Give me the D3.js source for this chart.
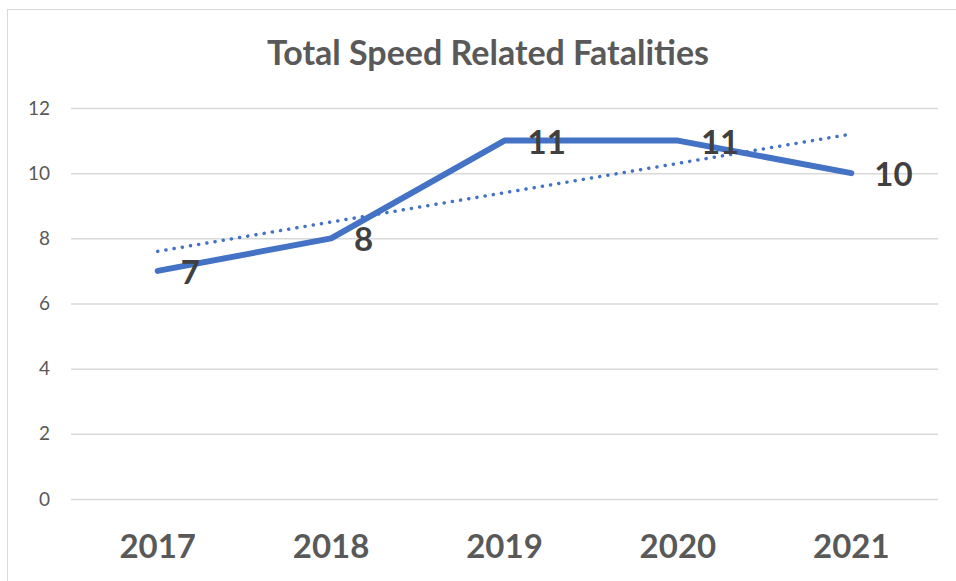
<!DOCTYPE html>
<html>
<head>
<meta charset="utf-8">
<script src="https://cdn.jsdelivr.net/npm/d3@7"></script>
<style>
  body { margin: 0; background: #fff; }
  svg text { font-family: Lato, "Open Sans", sans-serif; }
</style>
</head>
<body>
<div id="chart"></div>
<script>
// data
var years = ["2017", "2018", "2019", "2020", "2021"];
var fatalities = [7, 8, 11, 11, 10];
var yTicks = [0, 2, 4, 6, 8, 10, 12];

var width = 956, height = 581;
var margin = { left: 71, right: 18, top: 108, bottom: 82 };

var svg = d3.select("#chart").append("svg")
	.attr("width", width)
	.attr("height", height);

// chart frame
svg.append("rect")
	.attr("x", 7.5).attr("y", 9.5)
	.attr("width", 960).attr("height", 600)
	.attr("fill", "none")
	.attr("stroke", "#d9d9d9");

svg.append("text")
	.attr("x", 488).attr("y", 65)
	.attr("text-anchor", "middle")
	.style("font-size", "34px")
	.style("font-weight", "bold")
	.attr("fill", "#595959")
	.text("Total Speed Related Fatalities");

var x = d3.scaleBand().domain(years).range([margin.left, width - margin.right]);
var y = d3.scaleLinear().domain([0, 12]).range([height - margin.bottom, margin.top]);

// grid + y labels
var yAxis = d3.axisLeft(y).tickValues(yTicks).tickSize(-(width - margin.right - margin.left)).tickPadding(21);
var gy = svg.append("g")
	.attr("transform", "translate(" + margin.left + ",0)")
	.call(yAxis);
gy.select(".domain").remove();
gy.selectAll(".tick line").attr("stroke", "#d9d9d9").attr("stroke-width", 1.5);
gy.selectAll(".tick text")
	.attr("fill", "#595959")
	.style("font-size", "19px");

// x labels
var xAxis = d3.axisBottom(x).tickSize(0).tickPadding(36);
var gx = svg.append("g")
	.attr("transform", "translate(0," + (height - margin.bottom) + ")")
	.call(xAxis);
gx.select(".domain").remove();
gx.selectAll(".tick text")
	.attr("fill", "#595959")
	.style("font-size", "33px")
	.style("font-weight", "bold");

var cx = function(d, i) { return x(years[i]) + x.bandwidth() / 2; };

// linear trendline (least squares over the series)
var n = fatalities.length;
var mx = d3.mean(d3.range(n)), my = d3.mean(fatalities);
var slope = d3.sum(fatalities, function(v, i) { return (i - mx) * (v - my); }) /
	d3.sum(d3.range(n), function(i) { return (i - mx) * (i - mx); });
var trend = [0, n - 1].map(function(i) { return [i, my + slope * (i - mx)]; });

svg.append("path")
	.datum(trend)
	.attr("fill", "none")
	.attr("stroke", "#4472c4")
	.attr("stroke-width", 3.5)
	.attr("stroke-linecap", "round")
	.attr("stroke-dasharray", "0.1,8.2")
	.attr("d", d3.line()
		.x(function(d) { return x(years[d[0]]) + x.bandwidth() / 2; })
		.y(function(d) { return y(d[1]); }));

svg.append("path")
	.datum(fatalities)
	.attr("fill", "none")
	.attr("stroke", "#4472c4")
	.attr("stroke-width", 6)
	.attr("stroke-linecap", "round")
	.attr("stroke-linejoin", "round")
	.attr("d", d3.line().x(cx).y(function(d) { return y(d); }));

// data labels
svg.append("g").selectAll("text")
	.data(fatalities)
	.enter().append("text")
	.attr("x", function(d, i) { return cx(d, i) + 23; })
	.attr("y", function(d) { return y(d) + 13; })
	.style("font-size", "33px")
	.style("font-weight", "bold")
	.attr("fill", "#404040")
	.text(function(d) { return d; });
</script>
</body>
</html>
